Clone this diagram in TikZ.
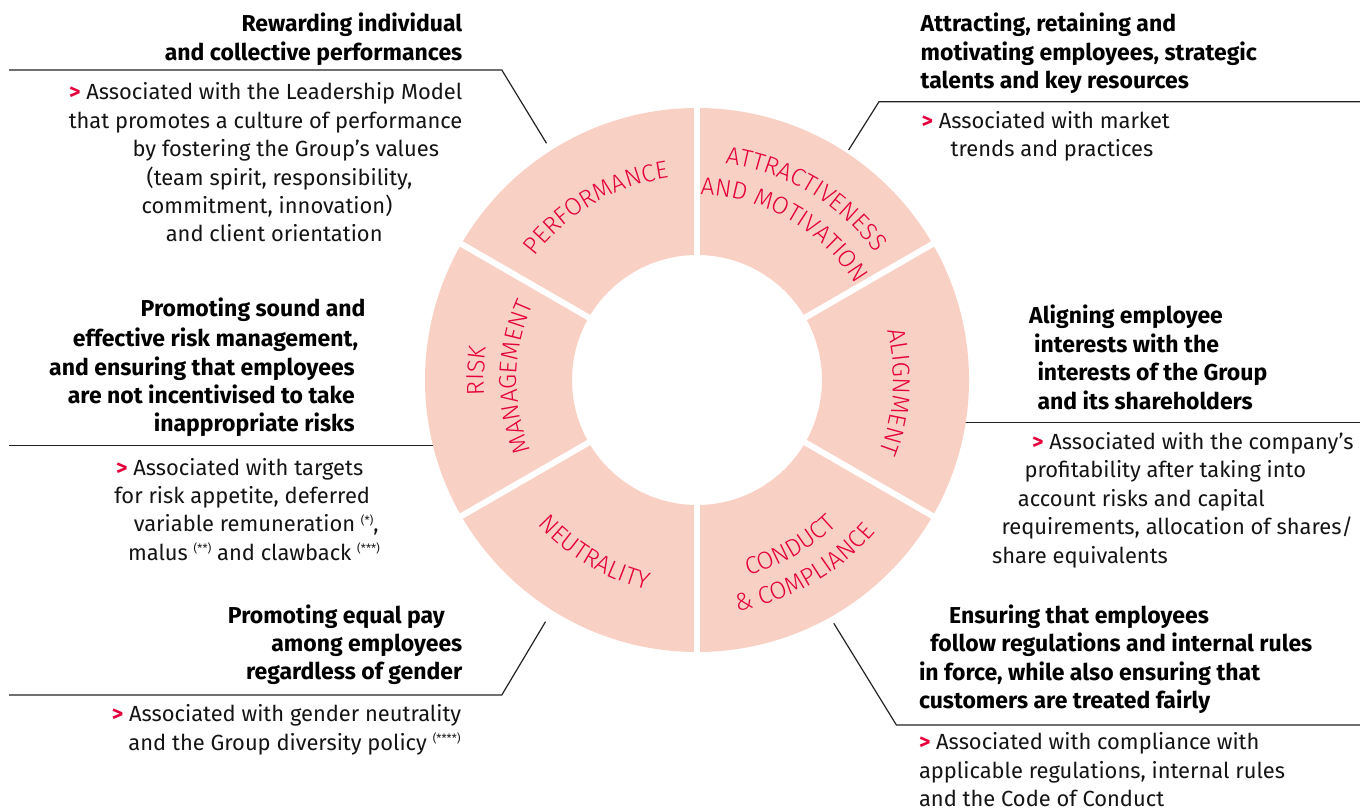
\documentclass[tikz,border=0pt]{standalone}
\usepackage{fontspec}
\setmainfont{Fira Sans}
\IfFontExistsTF{Fira Sans Light}{\newfontfamily\labelfont{Fira Sans Light}}{\newfontfamily\labelfont{Fira Sans}}
\definecolor{segfill}{RGB}{249,208,196}
\definecolor{segred}{RGB}{228,0,58}
\definecolor{leadcol}{RGB}{35,35,35}
\newcommand{\fnote}[1]{\raisebox{7.5pt}{\fontsize{11.5}{11.5}\selectfont(#1)}}
\newcommand{\redgt}{\textcolor{segred}{\bfseries >}}
\newdimen\chwid
\newdimen\totlen
\newcommand{\labfmt}{\labelfont\fontsize{24.5}{24.5}\selectfont}
% measure letters (outside the picture): #1 name, #2 letters
\newcommand{\prepl}[2]{%
  \global\totlen=0pt
  \foreach \ch [count=\i] in {#2}{%
    \setbox0=\hbox{\labfmt\ch}%
    \chwid=\wd0
    \expandafter\xdef\csname arcpos@#1@\i\endcsname{\the\dimexpr\totlen+\chwid/2\relax}%
    \global\advance\totlen by \chwid
  }%
  \expandafter\xdef\csname arctot@#1\endcsname{\the\totlen}%
}
% place letters: #1 baseline radius, #2 centre angle, #3 -1 clockwise (tops out) / 1 anticlockwise (tops in), #4 letters, #5 name
\newcommand{\arclabel}[5]{%
  \edef\tot{\csname arctot@#5\endcsname}%
  \pgfmathsetmacro{\halfspan}{0.5*\tot/#1*57.29578}%
  \foreach \ch [count=\i] in {#4}{%
    \edef\pos{\csname arcpos@#5@\i\endcsname}%
    \pgfmathsetmacro{\ang}{#2-(#3)*\halfspan+(#3)*(\pos/#1*57.29578)}%
    \pgfmathsetmacro{\rot}{\ang+(#3)*90}%
    \node[seglet, rotate=\rot] (#5\i) at (\ang:#1) {\ch};%
  }%
}
\begin{document}
\prepl{lpf}{P,E,R,F,O,R,M,A,N,C,E}%
\prepl{lat}{A,T,T,R,A,C,T,I,V,E,N,E,S,S}%
\prepl{lmo}{A,N,D,~,M,O,T,I,V,A,T,I,O,N}%
\prepl{lal}{A,L,I,G,N,M,E,N,T}%
\prepl{lri}{R,I,S,K}%
\prepl{lma}{M,A,N,A,G,E,M,E,N,T}%
\prepl{lne}{N,E,U,T,R,A,L,I,T,Y}%
\prepl{lco}{C,O,N,D,U,C,T}%
\prepl{lcm}{\&,~,C,O,M,P,L,I,A,N,C,E}%
\begin{tikzpicture}[x=1pt,y=-1pt,
  body/.style={font=\fontsize{21.9}{29}\selectfont, inner sep=0pt, text=black!92},
  head/.style={font=\fontsize{23}{29}\selectfont\bfseries, inner sep=0pt, text=black},
  leader/.style={draw=leadcol, line width=1.2pt},
  seglet/.style={anchor=base, inner sep=0pt, text=segred, font=\labfmt},
  gapline/.style={draw=white, line width=6pt}
]
\useasboundingbox (0,0) rectangle (1360,811);

% ---- leader lines (drawn under the ring)
\coordinate (pfA) at (9,70);      \coordinate (pfB) at (501.8,70);    \coordinate (pfC) at (546.5,143.3);
\coordinate (atA) at (1360,101.7); \coordinate (atB) at (879,101.7);  \coordinate (atC) at (848.6,150);
\coordinate (rmA) at (9,445.7);   \coordinate (rmB) at (450,445.7);
\coordinate (alA) at (950,422.7); \coordinate (alB) at (1360,422.7);
\coordinate (neA) at (9,695);     \coordinate (neB) at (501.8,695);   \coordinate (neC) at (545.5,621.7);
\coordinate (ccA) at (833.8,623.3); \coordinate (ccB) at (896.4,725); \coordinate (ccC) at (1360,725);
\draw[leader] (pfA) -- (pfB) -- (pfC);
\draw[leader] (atA) -- (atB) -- (atC);
\draw[leader] (rmA) -- (rmB);
\draw[leader] (alA) -- (alB);
\draw[leader] (neA) -- (neB) -- (neC);
\draw[leader] (ccA) -- (ccB) -- (ccC);

% ---- ring
\begin{scope}[shift={(697,380)}, y=1pt]
  \coordinate (ringc) at (0,0);
  \fill[segfill, even odd rule] (ringc) circle[radius=272] (ringc) circle[radius=125];
  \foreach \a in {30,90,150,210,270,330} \draw[gapline] (\a:118) -- (\a:278);
  \arclabel{204}{120.3}{-1}{P,E,R,F,O,R,M,A,N,C,E}{lpf}
  \arclabel{218.5}{59}{-1}{A,T,T,R,A,C,T,I,V,E,N,E,S,S}{lat}
  \arclabel{185}{60}{-1}{A,N,D,~,M,O,T,I,V,A,T,I,O,N}{lmo}
  \arclabel{196.5}{-3.5}{-1}{A,L,I,G,N,M,E,N,T}{lal}
  \arclabel{213}{177.6}{-1}{R,I,S,K}{lri}
  \arclabel{180.2}{179}{-1}{M,A,N,A,G,E,M,E,N,T}{lma}
  \arclabel{215.3}{239.4}{1}{N,E,U,T,R,A,L,I,T,Y}{lne}
  \arclabel{201.9}{299.3}{1}{C,O,N,D,U,C,T}{lco}
  \arclabel{234.3}{299.7}{1}{\&,~,C,O,M,P,L,I,A,N,C,E}{lcm}
\end{scope}

% ---- Performance block
\node[head, anchor=base east] (pfh1) at (462.5,31.5) {Rewarding individual};
\node[head, anchor=base east] (pfh2) at (462.5,60.5) {and collective performances};
\node[body, anchor=base east] (pfb1) at (462.5,99.5) {\redgt{} Associated with the Leadership Model};
\node[body, anchor=base east] (pfb2) at (462.5,128.3) {that promotes a culture of performance};
\node[body, anchor=base] (pfb3) at (285.8,156.7) {by fostering the Group’s values};
\node[body, anchor=base] (pfb4) at (279.5,185) {(team spirit, responsibility,};
\node[body, anchor=base] (pfb5) at (267,213.3) {commitment, innovation)};
\node[body, anchor=base] (pfb6) at (274.2,241.7) {and client orientation};

% ---- Attractiveness block
\node[head, anchor=base west] (ath1) at (920.5,31.7) {Attracting, retaining and};
\node[head, anchor=base west] (ath2) at (920.5,60) {motivating employees, strategic};
\node[head, anchor=base west] (ath3) at (920.5,88.3) {talents and key resources};
\node[body, anchor=base west] (atb1) at (921.5,128.3) {\redgt{} Associated with market};
\node[body, anchor=base west] (atb2) at (950.5,156.7) {trends and practices};

% ---- Risk management block
\node[head, anchor=base east] (rmh1) at (365.7,316.7) {Promoting sound and};
\node[head, anchor=base east] (rmh2) at (358.3,346) {effective risk management,};
\node[head, anchor=base east] (rmh3) at (355,375) {and ensuring that employees};
\node[head, anchor=base east] (rmh4) at (355,403.3) {are not incentivised to take};
\node[head, anchor=base east] (rmh5) at (355,431.7) {inappropriate risks};
\node[body, anchor=base] (rmb1) at (239.7,475) {\redgt{} Associated with targets};
\node[body, anchor=base] (rmb2) at (242.2,503.3) {for risk appetite, deferred};
\node[body, anchor=base] (rmb3) at (256.3,531.7) {variable remuneration \fnote{*},};
\node[body, anchor=base] (rmb4) at (254,560) {malus \fnote{**} and clawback \fnote{***}};

% ---- Alignment block
\node[head, anchor=base west] (alh1) at (1029,323.3) {Aligning employee};
\node[head, anchor=base west] (alh2) at (1034,352.3) {interests with the};
\node[head, anchor=base west] (alh3) at (1037.3,380.7) {interests of the Group};
\node[head, anchor=base west] (alh4) at (1037.3,409.3) {and its shareholders};
\node[body, anchor=base] (alb1) at (1192.8,449) {\redgt{} Associated with the company’s};
\node[body, anchor=base] (alb2) at (1165.3,477.3) {profitability after taking into};
\node[body, anchor=base] (alb3) at (1141.3,506) {account risks and capital};
\node[body, anchor=base] (alb4) at (1177.2,534.3) {requirements, allocation of shares/};
\node[body, anchor=base] (alb5) at (1080,563.3) {share equivalents};

% ---- Neutrality block
\node[head, anchor=base] (neh1) at (336.4,623.3) {Promoting equal pay};
\node[head, anchor=base east] (neh2) at (462.5,651.7) {among employees};
\node[head, anchor=base east] (neh3) at (462.5,679.3) {regardless of gender};
\node[body, anchor=base] (neb1) at (286.5,721.7) {\redgt{} Associated with gender neutrality};
\node[body, anchor=base] (neb2) at (294.5,750) {and the Group diversity policy \fnote{****}};

% ---- Conduct block
\node[head, anchor=base west] (cch1) at (949,623.3) {Ensuring that employees};
\node[head, anchor=base west] (cch2) at (930.2,651.7) {follow regulations and internal rules};
\node[head, anchor=base west] (cch3) at (918.8,680) {in force, while also ensuring that};
\node[head, anchor=base west] (cch4) at (918.8,708.3) {customers are treated fairly};
\node[body, anchor=base west] (ccb1) at (918.8,749.3) {\redgt{} Associated with compliance with};
\node[body, anchor=base west] (ccb2) at (918.8,778.3) {applicable regulations, internal rules};
\node[body, anchor=base west] (ccb3) at (918.8,806.7) {and the Code of Conduct};
\end{tikzpicture}
\end{document}
